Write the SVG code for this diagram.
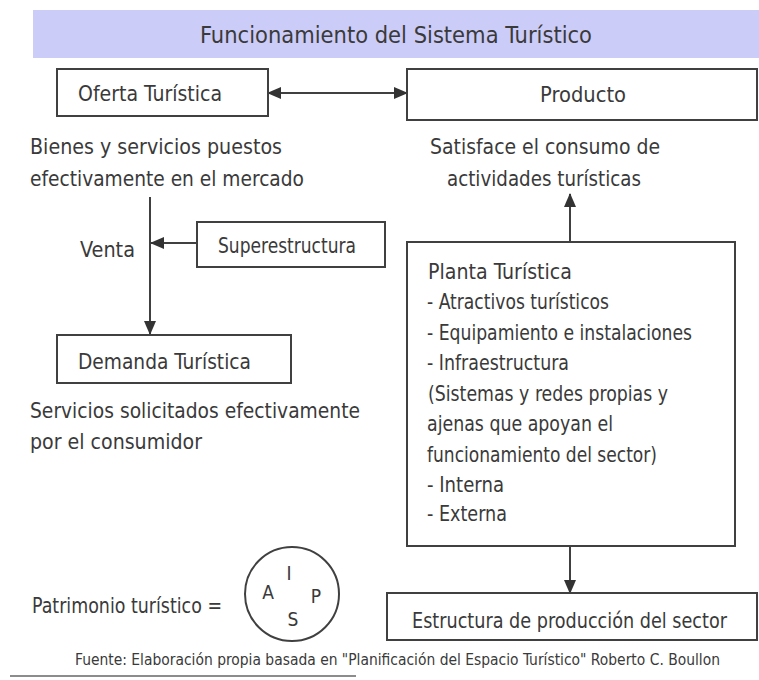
<svg xmlns="http://www.w3.org/2000/svg" width="759" height="680" viewBox="0 0 759 680">
<defs>
<marker id="ah" markerWidth="14" markerHeight="12" refX="13" refY="6" orient="auto" markerUnits="userSpaceOnUse">
<path d="M0,0 L14,6 L0,12 Z" fill="#333"/>
</marker>
<marker id="ahs" markerWidth="14" markerHeight="12" refX="1" refY="6" orient="auto" markerUnits="userSpaceOnUse">
<path d="M14,0 L0,6 L14,12 Z" fill="#333"/>
</marker>
<style>
.box{fill:#fff;stroke:#404040;stroke-width:2}
.t{font-family:"DejaVu Sans Condensed","DejaVu Sans","Liberation Sans",sans-serif;font-stretch:condensed;font-size:21px;fill:#3a3a3a}
.ttl{font-size:23px}
.ltr{font-size:19px}
.src{font-size:15px}
.ln{stroke:#404040;stroke-width:2;fill:none}
</style>
</defs>
<rect width="759" height="680" fill="#fff"/>
<g id="title">
<rect x="33" y="10" width="726" height="48" fill="#ccccf8"/>
<text class="t ttl" x="396" y="43" text-anchor="middle" textLength="392" lengthAdjust="spacingAndGlyphs">Funcionamiento del Sistema Turístico</text>
</g>
<g id="connectors">
<line class="ln" x1="268" y1="93" x2="407" y2="93" marker-start="url(#ahs)" marker-end="url(#ah)"/>
<line class="ln" x1="150" y1="197" x2="150" y2="334" marker-end="url(#ah)"/>
<line class="ln" x1="197" y1="243" x2="151" y2="243" marker-end="url(#ah)"/>
<line class="ln" x1="570" y1="242" x2="570" y2="194" marker-end="url(#ah)"/>
<line class="ln" x1="570" y1="546" x2="570" y2="593" marker-end="url(#ah)"/>
</g>
<g id="oferta">
<rect class="box" x="57" y="69" width="211" height="47"/>
<text class="t" x="78" y="101" textLength="144" lengthAdjust="spacingAndGlyphs">Oferta Turística</text>
<text class="t" x="30" y="154" textLength="252" lengthAdjust="spacingAndGlyphs">Bienes y servicios puestos</text>
<text class="t" x="30" y="186" textLength="274" lengthAdjust="spacingAndGlyphs">efectivamente en el mercado</text>
</g>
<g id="producto">
<rect class="box" x="407" y="69" width="350" height="51"/>
<text class="t" x="583" y="102" text-anchor="middle" textLength="86" lengthAdjust="spacingAndGlyphs">Producto</text>
<text class="t" x="430" y="154" textLength="230" lengthAdjust="spacingAndGlyphs">Satisface el consumo de</text>
<text class="t" x="447" y="186" textLength="194" lengthAdjust="spacingAndGlyphs">actividades turísticas</text>
</g>
<g id="venta">
<text class="t" x="80" y="257" textLength="55" lengthAdjust="spacingAndGlyphs">Venta</text>
</g>
<g id="superestructura">
<rect class="box" x="197" y="222" width="188" height="45"/>
<text class="t" x="218" y="253" textLength="138" lengthAdjust="spacingAndGlyphs">Superestructura</text>
</g>
<g id="demanda">
<rect class="box" x="57" y="335" width="234" height="48"/>
<text class="t" x="78" y="369" textLength="173" lengthAdjust="spacingAndGlyphs">Demanda Turística</text>
<text class="t" x="30" y="418" textLength="330" lengthAdjust="spacingAndGlyphs">Servicios solicitados efectivamente</text>
<text class="t" x="30" y="449" textLength="172" lengthAdjust="spacingAndGlyphs">por el consumidor</text>
</g>
<g id="planta">
<rect class="box" x="407" y="242" width="328" height="304"/>
<text class="t" x="428" y="279" textLength="144" lengthAdjust="spacingAndGlyphs">Planta Turística</text>
<text class="t" x="427" y="309" textLength="182" lengthAdjust="spacingAndGlyphs">- Atractivos turísticos</text>
<text class="t" x="427" y="340" textLength="265" lengthAdjust="spacingAndGlyphs">- Equipamiento e instalaciones</text>
<text class="t" x="427" y="370" textLength="142" lengthAdjust="spacingAndGlyphs">- Infraestructura</text>
<text class="t" x="428" y="401" textLength="240" lengthAdjust="spacingAndGlyphs">(Sistemas y redes propias y</text>
<text class="t" x="427" y="431" textLength="186" lengthAdjust="spacingAndGlyphs">ajenas que apoyan el</text>
<text class="t" x="427" y="462" textLength="230" lengthAdjust="spacingAndGlyphs">funcionamiento del sector)</text>
<text class="t" x="427" y="492" textLength="77" lengthAdjust="spacingAndGlyphs">- Interna</text>
<text class="t" x="427" y="521" textLength="80" lengthAdjust="spacingAndGlyphs">- Externa</text>
</g>
<g id="estructura">
<rect class="box" x="387" y="593" width="370" height="47"/>
<text class="t" x="412" y="628" textLength="315" lengthAdjust="spacingAndGlyphs">Estructura de producción del sector</text>
</g>
<g id="patrimonio">
<text class="t" x="32" y="613" textLength="190" lengthAdjust="spacingAndGlyphs">Patrimonio turístico =</text>
<circle cx="292" cy="594" r="47" fill="none" stroke="#404040" stroke-width="2"/>
<text class="t ltr" x="289" y="580" text-anchor="middle">I</text>
<text class="t ltr" x="268" y="599" text-anchor="middle">A</text>
<text class="t ltr" x="316" y="603" text-anchor="middle">P</text>
<text class="t ltr" x="293" y="626" text-anchor="middle">S</text>
</g>
<g id="fuente">
<text class="t src" x="75" y="665" textLength="645" lengthAdjust="spacingAndGlyphs">Fuente: Elaboración propia basada en "Planificación del Espacio Turístico" Roberto C. Boullon</text>
<line x1="10" y1="676" x2="356" y2="676" stroke="#666" stroke-width="1.5"/>
</g>
</svg>
